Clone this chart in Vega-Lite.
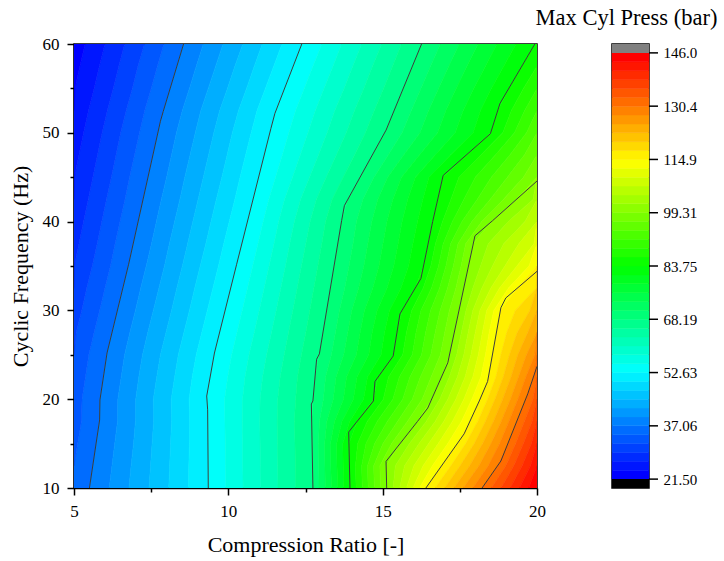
{
"$schema":"https://vega.github.io/schema/vega-lite/v6.json",
"background":"white",
"padding":{"left":8,"top":6,"right":5,"bottom":5},
"bounds":"flush",
"spacing":75,
"config":{"font":"Liberation Serif","view":{"stroke":"#000","strokeWidth":1.5},"axis":{"grid":false,"domainColor":"#000","tickColor":"#000","labelColor":"#000","titleColor":"#000","labelFont":"Liberation Serif","titleFont":"Liberation Serif","titleFontWeight":"normal","domainWidth":1.5,"tickWidth":1.5}},
"datasets":{
"cticks":[{"v":21.5},{"v":37.0625},{"v":52.625},{"v":68.1875},{"v":83.75},{"v":99.3125},{"v":114.875},{"v":130.4375},{"v":146}],
"cbar":[{"k":0,"lo":21.5,"hi":24.094},{"k":1,"lo":24.094,"hi":26.688},{"k":2,"lo":26.688,"hi":29.281},{"k":3,"lo":29.281,"hi":31.875},{"k":4,"lo":31.875,"hi":34.469},{"k":5,"lo":34.469,"hi":37.063},{"k":6,"lo":37.063,"hi":39.656},{"k":7,"lo":39.656,"hi":42.25},{"k":8,"lo":42.25,"hi":44.844},{"k":9,"lo":44.844,"hi":47.438},{"k":10,"lo":47.438,"hi":50.031},{"k":11,"lo":50.031,"hi":52.625},{"k":12,"lo":52.625,"hi":55.219},{"k":13,"lo":55.219,"hi":57.813},{"k":14,"lo":57.813,"hi":60.406},{"k":15,"lo":60.406,"hi":63},{"k":16,"lo":63,"hi":65.594},{"k":17,"lo":65.594,"hi":68.188},{"k":18,"lo":68.188,"hi":70.781},{"k":19,"lo":70.781,"hi":73.375},{"k":20,"lo":73.375,"hi":75.969},{"k":21,"lo":75.969,"hi":78.563},{"k":22,"lo":78.563,"hi":81.156},{"k":23,"lo":81.156,"hi":83.75},{"k":24,"lo":83.75,"hi":86.344},{"k":25,"lo":86.344,"hi":88.938},{"k":26,"lo":88.938,"hi":91.531},{"k":27,"lo":91.531,"hi":94.125},{"k":28,"lo":94.125,"hi":96.719},{"k":29,"lo":96.719,"hi":99.313},{"k":30,"lo":99.313,"hi":101.906},{"k":31,"lo":101.906,"hi":104.5},{"k":32,"lo":104.5,"hi":107.094},{"k":33,"lo":107.094,"hi":109.688},{"k":34,"lo":109.688,"hi":112.281},{"k":35,"lo":112.281,"hi":114.875},{"k":36,"lo":114.875,"hi":117.469},{"k":37,"lo":117.469,"hi":120.063},{"k":38,"lo":120.063,"hi":122.656},{"k":39,"lo":122.656,"hi":125.25},{"k":40,"lo":125.25,"hi":127.844},{"k":41,"lo":127.844,"hi":130.438},{"k":42,"lo":130.438,"hi":133.031},{"k":43,"lo":133.031,"hi":135.625},{"k":44,"lo":135.625,"hi":138.219},{"k":45,"lo":138.219,"hi":140.813},{"k":46,"lo":140.813,"hi":143.406},{"k":47,"lo":143.406,"hi":146}],
"caps":[{"part":"over","lo":146,"hi":148.594},{"part":"under","lo":18.906,"hi":21.5}],
"lines":[
{"level":"L1","x":5.5,"y":10},{"level":"L1","x":5.83,"y":17.66},{"level":"L1","x":5.84,"y":19.91},{"level":"L1","x":6.07,"y":25.2},{"level":"L1","x":6.77,"y":35.2},{"level":"L1","x":7.8,"y":51.3},{"level":"L1","x":7.89,"y":52.4},{"level":"L1","x":8.55,"y":60},
{"level":"L2","x":9.35,"y":10},{"level":"L2","x":9.33,"y":18.8},{"level":"L2","x":9.3,"y":20.36},{"level":"L2","x":9.55,"y":25.2},{"level":"L2","x":10.27,"y":35.2},{"level":"L2","x":11.38,"y":50.5},{"level":"L2","x":11.51,"y":52.2},{"level":"L2","x":12.38,"y":60},
{"level":"L3","x":12.74,"y":10},{"level":"L3","x":12.69,"y":19.46},{"level":"L3","x":12.74,"y":19.8},{"level":"L3","x":12.86,"y":24.5},{"level":"L3","x":12.95,"y":25.1},{"level":"L3","x":13.67,"y":40.1},{"level":"L3","x":13.76,"y":41.8},{"level":"L3","x":15.11,"y":50.3},{"level":"L3","x":16.26,"y":60},
{"level":"L4","x":13.94,"y":10},{"level":"L4","x":13.9,"y":16.31},{"level":"L4","x":14.7,"y":19.8},{"level":"L4","x":14.75,"y":22},{"level":"L4","x":15.34,"y":24.86},{"level":"L4","x":15.56,"y":29.6},{"level":"L4","x":16.24,"y":33.6},{"level":"L4","x":16.62,"y":40},{"level":"L4","x":16.96,"y":45.2},{"level":"L4","x":18.49,"y":49.9},{"level":"L4","x":18.8,"y":53.3},{"level":"L4","x":19.93,"y":60},
{"level":"L5","x":15.13,"y":10},{"level":"L5","x":15.11,"y":13},{"level":"L5","x":16.13,"y":17.5},{"level":"L5","x":16.46,"y":19},{"level":"L5","x":17.11,"y":24.1},{"level":"L5","x":17.99,"y":38.4},{"level":"L5","x":18.56,"y":40.1},{"level":"L5","x":20,"y":44.57},
{"level":"L6","x":16.4,"y":10},{"level":"L6","x":17.64,"y":16.1},{"level":"L6","x":18.13,"y":19.8},{"level":"L6","x":18.4,"y":22},{"level":"L6","x":18.83,"y":30.3},{"level":"L6","x":18.99,"y":31.4},{"level":"L6","x":20,"y":34.4},
{"level":"L7","x":18.22,"y":10},{"level":"L7","x":18.83,"y":13.04},{"level":"L7","x":19.7,"y":20.6},{"level":"L7","x":20,"y":23.7}],
"bands":[
{"k":5,"y":10,"a":5,"b":5.5},{"k":6,"y":10,"a":5.5,"b":6.14},{"k":7,"y":10,"a":6.14,"b":6.78},{"k":8,"y":10,"a":6.78,"b":7.43},{"k":9,"y":10,"a":7.43,"b":8.07},{"k":10,"y":10,"a":8.07,"b":8.71},{"k":11,"y":10,"a":8.71,"b":9.35},{"k":12,"y":10,"a":9.35,"b":9.92},{"k":13,"y":10,"a":9.92,"b":10.48},{"k":14,"y":10,"a":10.48,"b":11.05},{"k":15,"y":10,"a":11.05,"b":11.61},{"k":16,"y":10,"a":11.61,"b":12.18},{"k":17,"y":10,"a":12.18,"b":12.74},{"k":18,"y":10,"a":12.74,"b":12.94},{"k":19,"y":10,"a":12.94,"b":13.14},{"k":20,"y":10,"a":13.14,"b":13.34},{"k":21,"y":10,"a":13.34,"b":13.54},{"k":22,"y":10,"a":13.54,"b":13.74},{"k":23,"y":10,"a":13.74,"b":13.94},{"k":24,"y":10,"a":13.94,"b":14.14},{"k":25,"y":10,"a":14.14,"b":14.34},{"k":26,"y":10,"a":14.34,"b":14.53},{"k":27,"y":10,"a":14.53,"b":14.73},{"k":28,"y":10,"a":14.73,"b":14.93},{"k":29,"y":10,"a":14.93,"b":15.13},{"k":30,"y":10,"a":15.13,"b":15.34},{"k":31,"y":10,"a":15.34,"b":15.55},{"k":32,"y":10,"a":15.55,"b":15.77},{"k":33,"y":10,"a":15.77,"b":15.98},{"k":34,"y":10,"a":15.98,"b":16.19},{"k":35,"y":10,"a":16.19,"b":16.4},{"k":36,"y":10,"a":16.4,"b":16.7},{"k":37,"y":10,"a":16.7,"b":17.01},{"k":38,"y":10,"a":17.01,"b":17.31},{"k":39,"y":10,"a":17.31,"b":17.61},{"k":40,"y":10,"a":17.61,"b":17.92},{"k":41,"y":10,"a":17.92,"b":18.22},{"k":42,"y":10,"a":18.22,"b":18.52},{"k":43,"y":10,"a":18.52,"b":18.83},{"k":44,"y":10,"a":18.83,"b":19.13},{"k":45,"y":10,"a":19.13,"b":19.43},{"k":46,"y":10,"a":19.43,"b":19.73},{"k":47,"y":10,"a":19.73,"b":20},
{"k":4,"y":12.5,"a":5,"b":5},{"k":5,"y":12.5,"a":5,"b":5.61},{"k":6,"y":12.5,"a":5.61,"b":6.23},{"k":7,"y":12.5,"a":6.23,"b":6.85},{"k":8,"y":12.5,"a":6.85,"b":7.48},{"k":9,"y":12.5,"a":7.48,"b":8.1},{"k":10,"y":12.5,"a":8.1,"b":8.72},{"k":11,"y":12.5,"a":8.72,"b":9.34},{"k":12,"y":12.5,"a":9.34,"b":9.91},{"k":13,"y":12.5,"a":9.91,"b":10.47},{"k":14,"y":12.5,"a":10.47,"b":11.04},{"k":15,"y":12.5,"a":11.04,"b":11.6},{"k":16,"y":12.5,"a":11.6,"b":12.17},{"k":17,"y":12.5,"a":12.17,"b":12.73},{"k":18,"y":12.5,"a":12.73,"b":12.93},{"k":19,"y":12.5,"a":12.93,"b":13.13},{"k":20,"y":12.5,"a":13.13,"b":13.32},{"k":21,"y":12.5,"a":13.32,"b":13.52},{"k":22,"y":12.5,"a":13.52,"b":13.72},{"k":23,"y":12.5,"a":13.72,"b":13.92},{"k":24,"y":12.5,"a":13.92,"b":14.12},{"k":25,"y":12.5,"a":14.12,"b":14.32},{"k":26,"y":12.5,"a":14.32,"b":14.51},{"k":27,"y":12.5,"a":14.51,"b":14.71},{"k":28,"y":12.5,"a":14.71,"b":14.91},{"k":29,"y":12.5,"a":14.91,"b":15.11},{"k":30,"y":12.5,"a":15.11,"b":15.41},{"k":31,"y":12.5,"a":15.41,"b":15.71},{"k":32,"y":12.5,"a":15.71,"b":16.01},{"k":33,"y":12.5,"a":16.01,"b":16.31},{"k":34,"y":12.5,"a":16.31,"b":16.61},{"k":35,"y":12.5,"a":16.61,"b":16.91},{"k":36,"y":12.5,"a":16.91,"b":17.21},{"k":37,"y":12.5,"a":17.21,"b":17.51},{"k":38,"y":12.5,"a":17.51,"b":17.82},{"k":39,"y":12.5,"a":17.82,"b":18.12},{"k":40,"y":12.5,"a":18.12,"b":18.42},{"k":41,"y":12.5,"a":18.42,"b":18.72},{"k":42,"y":12.5,"a":18.72,"b":18.99},{"k":43,"y":12.5,"a":18.99,"b":19.25},{"k":44,"y":12.5,"a":19.25,"b":19.52},{"k":45,"y":12.5,"a":19.52,"b":19.79},{"k":46,"y":12.5,"a":19.79,"b":20},{"k":47,"y":12.5,"a":20,"b":20},
{"k":4,"y":15,"a":5,"b":5.12},{"k":5,"y":15,"a":5.12,"b":5.72},{"k":6,"y":15,"a":5.72,"b":6.32},{"k":7,"y":15,"a":6.32,"b":6.93},{"k":8,"y":15,"a":6.93,"b":7.53},{"k":9,"y":15,"a":7.53,"b":8.13},{"k":10,"y":15,"a":8.13,"b":8.74},{"k":11,"y":15,"a":8.74,"b":9.34},{"k":12,"y":15,"a":9.34,"b":9.9},{"k":13,"y":15,"a":9.9,"b":10.47},{"k":14,"y":15,"a":10.47,"b":11.03},{"k":15,"y":15,"a":11.03,"b":11.59},{"k":16,"y":15,"a":11.59,"b":12.16},{"k":17,"y":15,"a":12.16,"b":12.72},{"k":18,"y":15,"a":12.72,"b":12.92},{"k":19,"y":15,"a":12.92,"b":13.12},{"k":20,"y":15,"a":13.12,"b":13.31},{"k":21,"y":15,"a":13.31,"b":13.51},{"k":22,"y":15,"a":13.51,"b":13.71},{"k":23,"y":15,"a":13.71,"b":13.91},{"k":24,"y":15,"a":13.91,"b":14.19},{"k":25,"y":15,"a":14.19,"b":14.46},{"k":26,"y":15,"a":14.46,"b":14.74},{"k":27,"y":15,"a":14.74,"b":15.01},{"k":28,"y":15,"a":15.01,"b":15.29},{"k":29,"y":15,"a":15.29,"b":15.56},{"k":30,"y":15,"a":15.56,"b":15.87},{"k":31,"y":15,"a":15.87,"b":16.18},{"k":32,"y":15,"a":16.18,"b":16.49},{"k":33,"y":15,"a":16.49,"b":16.8},{"k":34,"y":15,"a":16.8,"b":17.11},{"k":35,"y":15,"a":17.11,"b":17.42},{"k":36,"y":15,"a":17.42,"b":17.69},{"k":37,"y":15,"a":17.69,"b":17.97},{"k":38,"y":15,"a":17.97,"b":18.24},{"k":39,"y":15,"a":18.24,"b":18.51},{"k":40,"y":15,"a":18.51,"b":18.79},{"k":41,"y":15,"a":18.79,"b":19.06},{"k":42,"y":15,"a":19.06,"b":19.31},{"k":43,"y":15,"a":19.31,"b":19.56},{"k":44,"y":15,"a":19.56,"b":19.82},{"k":45,"y":15,"a":19.82,"b":20},{"k":46,"y":15,"a":20,"b":20},
{"k":4,"y":17.5,"a":5,"b":5.24},{"k":5,"y":17.5,"a":5.24,"b":5.82},{"k":6,"y":17.5,"a":5.82,"b":6.41},{"k":7,"y":17.5,"a":6.41,"b":6.99},{"k":8,"y":17.5,"a":6.99,"b":7.58},{"k":9,"y":17.5,"a":7.58,"b":8.16},{"k":10,"y":17.5,"a":8.16,"b":8.75},{"k":11,"y":17.5,"a":8.75,"b":9.33},{"k":12,"y":17.5,"a":9.33,"b":9.89},{"k":13,"y":17.5,"a":9.89,"b":10.45},{"k":14,"y":17.5,"a":10.45,"b":11.02},{"k":15,"y":17.5,"a":11.02,"b":11.58},{"k":16,"y":17.5,"a":11.58,"b":12.14},{"k":17,"y":17.5,"a":12.14,"b":12.7},{"k":18,"y":17.5,"a":12.7,"b":12.95},{"k":19,"y":17.5,"a":12.95,"b":13.19},{"k":20,"y":17.5,"a":13.19,"b":13.44},{"k":21,"y":17.5,"a":13.44,"b":13.68},{"k":22,"y":17.5,"a":13.68,"b":13.93},{"k":23,"y":17.5,"a":13.93,"b":14.17},{"k":24,"y":17.5,"a":14.17,"b":14.5},{"k":25,"y":17.5,"a":14.5,"b":14.82},{"k":26,"y":17.5,"a":14.82,"b":15.15},{"k":27,"y":17.5,"a":15.15,"b":15.48},{"k":28,"y":17.5,"a":15.48,"b":15.8},{"k":29,"y":17.5,"a":15.8,"b":16.13},{"k":30,"y":17.5,"a":16.13,"b":16.41},{"k":31,"y":17.5,"a":16.41,"b":16.7},{"k":32,"y":17.5,"a":16.7,"b":16.98},{"k":33,"y":17.5,"a":16.98,"b":17.26},{"k":34,"y":17.5,"a":17.26,"b":17.55},{"k":35,"y":17.5,"a":17.55,"b":17.83},{"k":36,"y":17.5,"a":17.83,"b":18.08},{"k":37,"y":17.5,"a":18.08,"b":18.33},{"k":38,"y":17.5,"a":18.33,"b":18.59},{"k":39,"y":17.5,"a":18.59,"b":18.84},{"k":40,"y":17.5,"a":18.84,"b":19.09},{"k":41,"y":17.5,"a":19.09,"b":19.34},{"k":42,"y":17.5,"a":19.34,"b":19.59},{"k":43,"y":17.5,"a":19.59,"b":19.84},{"k":44,"y":17.5,"a":19.84,"b":20},{"k":45,"y":17.5,"a":20,"b":20},
{"k":4,"y":20,"a":5,"b":5.26},{"k":5,"y":20,"a":5.26,"b":5.84},{"k":6,"y":20,"a":5.84,"b":6.42},{"k":7,"y":20,"a":6.42,"b":7},{"k":8,"y":20,"a":7,"b":7.57},{"k":9,"y":20,"a":7.57,"b":8.15},{"k":10,"y":20,"a":8.15,"b":8.73},{"k":11,"y":20,"a":8.73,"b":9.31},{"k":12,"y":20,"a":9.31,"b":9.88},{"k":13,"y":20,"a":9.88,"b":10.46},{"k":14,"y":20,"a":10.46,"b":11.03},{"k":15,"y":20,"a":11.03,"b":11.6},{"k":16,"y":20,"a":11.6,"b":12.18},{"k":17,"y":20,"a":12.18,"b":12.75},{"k":18,"y":20,"a":12.75,"b":13.08},{"k":19,"y":20,"a":13.08,"b":13.4},{"k":20,"y":20,"a":13.4,"b":13.73},{"k":21,"y":20,"a":13.73,"b":14.05},{"k":22,"y":20,"a":14.05,"b":14.38},{"k":23,"y":20,"a":14.38,"b":14.7},{"k":24,"y":20,"a":14.7,"b":15.02},{"k":25,"y":20,"a":15.02,"b":15.33},{"k":26,"y":20,"a":15.33,"b":15.65},{"k":27,"y":20,"a":15.65,"b":15.96},{"k":28,"y":20,"a":15.96,"b":16.28},{"k":29,"y":20,"a":16.28,"b":16.59},{"k":30,"y":20,"a":16.59,"b":16.85},{"k":31,"y":20,"a":16.85,"b":17.11},{"k":32,"y":20,"a":17.11,"b":17.37},{"k":33,"y":20,"a":17.37,"b":17.63},{"k":34,"y":20,"a":17.63,"b":17.89},{"k":35,"y":20,"a":17.89,"b":18.15},{"k":36,"y":20,"a":18.15,"b":18.4},{"k":37,"y":20,"a":18.4,"b":18.64},{"k":38,"y":20,"a":18.64,"b":18.89},{"k":39,"y":20,"a":18.89,"b":19.14},{"k":40,"y":20,"a":19.14,"b":19.38},{"k":41,"y":20,"a":19.38,"b":19.63},{"k":42,"y":20,"a":19.63,"b":19.87},{"k":43,"y":20,"a":19.87,"b":20},{"k":44,"y":20,"a":20,"b":20},
{"k":4,"y":22.5,"a":5,"b":5.37},{"k":5,"y":22.5,"a":5.37,"b":5.95},{"k":6,"y":22.5,"a":5.95,"b":6.53},{"k":7,"y":22.5,"a":6.53,"b":7.1},{"k":8,"y":22.5,"a":7.1,"b":7.68},{"k":9,"y":22.5,"a":7.68,"b":8.26},{"k":10,"y":22.5,"a":8.26,"b":8.83},{"k":11,"y":22.5,"a":8.83,"b":9.41},{"k":12,"y":22.5,"a":9.41,"b":9.98},{"k":13,"y":22.5,"a":9.98,"b":10.54},{"k":14,"y":22.5,"a":10.54,"b":11.11},{"k":15,"y":22.5,"a":11.11,"b":11.68},{"k":16,"y":22.5,"a":11.68,"b":12.24},{"k":17,"y":22.5,"a":12.24,"b":12.81},{"k":18,"y":22.5,"a":12.81,"b":13.15},{"k":19,"y":22.5,"a":13.15,"b":13.49},{"k":20,"y":22.5,"a":13.49,"b":13.83},{"k":21,"y":22.5,"a":13.83,"b":14.17},{"k":22,"y":22.5,"a":14.17,"b":14.51},{"k":23,"y":22.5,"a":14.51,"b":14.85},{"k":24,"y":22.5,"a":14.85,"b":15.19},{"k":25,"y":22.5,"a":15.19,"b":15.54},{"k":26,"y":22.5,"a":15.54,"b":15.88},{"k":27,"y":22.5,"a":15.88,"b":16.22},{"k":28,"y":22.5,"a":16.22,"b":16.57},{"k":29,"y":22.5,"a":16.57,"b":16.91},{"k":30,"y":22.5,"a":16.91,"b":17.16},{"k":31,"y":22.5,"a":17.16,"b":17.42},{"k":32,"y":22.5,"a":17.42,"b":17.67},{"k":33,"y":22.5,"a":17.67,"b":17.92},{"k":34,"y":22.5,"a":17.92,"b":18.18},{"k":35,"y":22.5,"a":18.18,"b":18.43},{"k":36,"y":22.5,"a":18.43,"b":18.67},{"k":37,"y":22.5,"a":18.67,"b":18.91},{"k":38,"y":22.5,"a":18.91,"b":19.16},{"k":39,"y":22.5,"a":19.16,"b":19.4},{"k":40,"y":22.5,"a":19.4,"b":19.64},{"k":41,"y":22.5,"a":19.64,"b":19.88},{"k":42,"y":22.5,"a":19.88,"b":20},{"k":43,"y":22.5,"a":20,"b":20},
{"k":3,"y":25,"a":5,"b":5},{"k":4,"y":25,"a":5,"b":5.48},{"k":5,"y":25,"a":5.48,"b":6.06},{"k":6,"y":25,"a":6.06,"b":6.64},{"k":7,"y":25,"a":6.64,"b":7.22},{"k":8,"y":25,"a":7.22,"b":7.8},{"k":9,"y":25,"a":7.8,"b":8.38},{"k":10,"y":25,"a":8.38,"b":8.96},{"k":11,"y":25,"a":8.96,"b":9.54},{"k":12,"y":25,"a":9.54,"b":10.11},{"k":13,"y":25,"a":10.11,"b":10.67},{"k":14,"y":25,"a":10.67,"b":11.24},{"k":15,"y":25,"a":11.24,"b":11.81},{"k":16,"y":25,"a":11.81,"b":12.37},{"k":17,"y":25,"a":12.37,"b":12.94},{"k":18,"y":25,"a":12.94,"b":13.34},{"k":19,"y":25,"a":13.34,"b":13.74},{"k":20,"y":25,"a":13.74,"b":14.15},{"k":21,"y":25,"a":14.15,"b":14.55},{"k":22,"y":25,"a":14.55,"b":14.95},{"k":23,"y":25,"a":14.95,"b":15.35},{"k":24,"y":25,"a":15.35,"b":15.65},{"k":25,"y":25,"a":15.65,"b":15.96},{"k":26,"y":25,"a":15.96,"b":16.26},{"k":27,"y":25,"a":16.26,"b":16.56},{"k":28,"y":25,"a":16.56,"b":16.87},{"k":29,"y":25,"a":16.87,"b":17.17},{"k":30,"y":25,"a":17.17,"b":17.4},{"k":31,"y":25,"a":17.4,"b":17.63},{"k":32,"y":25,"a":17.63,"b":17.86},{"k":33,"y":25,"a":17.86,"b":18.1},{"k":34,"y":25,"a":18.1,"b":18.33},{"k":35,"y":25,"a":18.33,"b":18.56},{"k":36,"y":25,"a":18.56,"b":18.83},{"k":37,"y":25,"a":18.83,"b":19.11},{"k":38,"y":25,"a":19.11,"b":19.38},{"k":39,"y":25,"a":19.38,"b":19.66},{"k":40,"y":25,"a":19.66,"b":19.93},{"k":41,"y":25,"a":19.93,"b":20},{"k":42,"y":25,"a":20,"b":20},
{"k":3,"y":27.5,"a":5,"b":5.07},{"k":4,"y":27.5,"a":5.07,"b":5.65},{"k":5,"y":27.5,"a":5.65,"b":6.23},{"k":6,"y":27.5,"a":6.23,"b":6.81},{"k":7,"y":27.5,"a":6.81,"b":7.39},{"k":8,"y":27.5,"a":7.39,"b":7.98},{"k":9,"y":27.5,"a":7.98,"b":8.56},{"k":10,"y":27.5,"a":8.56,"b":9.14},{"k":11,"y":27.5,"a":9.14,"b":9.72},{"k":12,"y":27.5,"a":9.72,"b":10.28},{"k":13,"y":27.5,"a":10.28,"b":10.84},{"k":14,"y":27.5,"a":10.84,"b":11.4},{"k":15,"y":27.5,"a":11.4,"b":11.95},{"k":16,"y":27.5,"a":11.95,"b":12.51},{"k":17,"y":27.5,"a":12.51,"b":13.07},{"k":18,"y":27.5,"a":13.07,"b":13.47},{"k":19,"y":27.5,"a":13.47,"b":13.87},{"k":20,"y":27.5,"a":13.87,"b":14.27},{"k":21,"y":27.5,"a":14.27,"b":14.66},{"k":22,"y":27.5,"a":14.66,"b":15.06},{"k":23,"y":27.5,"a":15.06,"b":15.46},{"k":24,"y":27.5,"a":15.46,"b":15.77},{"k":25,"y":27.5,"a":15.77,"b":16.08},{"k":26,"y":27.5,"a":16.08,"b":16.39},{"k":27,"y":27.5,"a":16.39,"b":16.7},{"k":28,"y":27.5,"a":16.7,"b":17.01},{"k":29,"y":27.5,"a":17.01,"b":17.32},{"k":30,"y":27.5,"a":17.32,"b":17.55},{"k":31,"y":27.5,"a":17.55,"b":17.77},{"k":32,"y":27.5,"a":17.77,"b":18},{"k":33,"y":27.5,"a":18,"b":18.23},{"k":34,"y":27.5,"a":18.23,"b":18.45},{"k":35,"y":27.5,"a":18.45,"b":18.68},{"k":36,"y":27.5,"a":18.68,"b":19.02},{"k":37,"y":27.5,"a":19.02,"b":19.36},{"k":38,"y":27.5,"a":19.36,"b":19.7},{"k":39,"y":27.5,"a":19.7,"b":20},{"k":40,"y":27.5,"a":20,"b":20},{"k":41,"y":27.5,"a":20,"b":20},
{"k":3,"y":30,"a":5,"b":5.25},{"k":4,"y":30,"a":5.25,"b":5.83},{"k":5,"y":30,"a":5.83,"b":6.41},{"k":6,"y":30,"a":6.41,"b":6.99},{"k":7,"y":30,"a":6.99,"b":7.57},{"k":8,"y":30,"a":7.57,"b":8.16},{"k":9,"y":30,"a":8.16,"b":8.74},{"k":10,"y":30,"a":8.74,"b":9.32},{"k":11,"y":30,"a":9.32,"b":9.9},{"k":12,"y":30,"a":9.9,"b":10.45},{"k":13,"y":30,"a":10.45,"b":11},{"k":14,"y":30,"a":11,"b":11.55},{"k":15,"y":30,"a":11.55,"b":12.09},{"k":16,"y":30,"a":12.09,"b":12.64},{"k":17,"y":30,"a":12.64,"b":13.19},{"k":18,"y":30,"a":13.19,"b":13.6},{"k":19,"y":30,"a":13.6,"b":14},{"k":20,"y":30,"a":14,"b":14.41},{"k":21,"y":30,"a":14.41,"b":14.82},{"k":22,"y":30,"a":14.82,"b":15.22},{"k":23,"y":30,"a":15.22,"b":15.63},{"k":24,"y":30,"a":15.63,"b":15.94},{"k":25,"y":30,"a":15.94,"b":16.24},{"k":26,"y":30,"a":16.24,"b":16.55},{"k":27,"y":30,"a":16.55,"b":16.86},{"k":28,"y":30,"a":16.86,"b":17.16},{"k":29,"y":30,"a":17.16,"b":17.47},{"k":30,"y":30,"a":17.47,"b":17.7},{"k":31,"y":30,"a":17.7,"b":17.92},{"k":32,"y":30,"a":17.92,"b":18.15},{"k":33,"y":30,"a":18.15,"b":18.37},{"k":34,"y":30,"a":18.37,"b":18.6},{"k":35,"y":30,"a":18.6,"b":18.82},{"k":36,"y":30,"a":18.82,"b":19.3},{"k":37,"y":30,"a":19.3,"b":19.77},{"k":38,"y":30,"a":19.77,"b":20},{"k":39,"y":30,"a":20,"b":20},
{"k":2,"y":32.5,"a":5,"b":5},{"k":3,"y":32.5,"a":5,"b":5.41},{"k":4,"y":32.5,"a":5.41,"b":6},{"k":5,"y":32.5,"a":6,"b":6.58},{"k":6,"y":32.5,"a":6.58,"b":7.16},{"k":7,"y":32.5,"a":7.16,"b":7.75},{"k":8,"y":32.5,"a":7.75,"b":8.33},{"k":9,"y":32.5,"a":8.33,"b":8.91},{"k":10,"y":32.5,"a":8.91,"b":9.5},{"k":11,"y":32.5,"a":9.5,"b":10.08},{"k":12,"y":32.5,"a":10.08,"b":10.62},{"k":13,"y":32.5,"a":10.62,"b":11.16},{"k":14,"y":32.5,"a":11.16,"b":11.7},{"k":15,"y":32.5,"a":11.7,"b":12.23},{"k":16,"y":32.5,"a":12.23,"b":12.77},{"k":17,"y":32.5,"a":12.77,"b":13.31},{"k":18,"y":32.5,"a":13.31,"b":13.77},{"k":19,"y":32.5,"a":13.77,"b":14.22},{"k":20,"y":32.5,"a":14.22,"b":14.68},{"k":21,"y":32.5,"a":14.68,"b":15.14},{"k":22,"y":32.5,"a":15.14,"b":15.59},{"k":23,"y":32.5,"a":15.59,"b":16.05},{"k":24,"y":32.5,"a":16.05,"b":16.31},{"k":25,"y":32.5,"a":16.31,"b":16.58},{"k":26,"y":32.5,"a":16.58,"b":16.84},{"k":27,"y":32.5,"a":16.84,"b":17.1},{"k":28,"y":32.5,"a":17.1,"b":17.37},{"k":29,"y":32.5,"a":17.37,"b":17.63},{"k":30,"y":32.5,"a":17.63,"b":17.92},{"k":31,"y":32.5,"a":17.92,"b":18.21},{"k":32,"y":32.5,"a":18.21,"b":18.5},{"k":33,"y":32.5,"a":18.5,"b":18.78},{"k":34,"y":32.5,"a":18.78,"b":19.07},{"k":35,"y":32.5,"a":19.07,"b":19.36},{"k":36,"y":32.5,"a":19.36,"b":19.97},{"k":37,"y":32.5,"a":19.97,"b":20},{"k":38,"y":32.5,"a":20,"b":20},
{"k":2,"y":35,"a":5,"b":5.01},{"k":3,"y":35,"a":5.01,"b":5.59},{"k":4,"y":35,"a":5.59,"b":6.18},{"k":5,"y":35,"a":6.18,"b":6.76},{"k":6,"y":35,"a":6.76,"b":7.34},{"k":7,"y":35,"a":7.34,"b":7.93},{"k":8,"y":35,"a":7.93,"b":8.51},{"k":9,"y":35,"a":8.51,"b":9.09},{"k":10,"y":35,"a":9.09,"b":9.68},{"k":11,"y":35,"a":9.68,"b":10.26},{"k":12,"y":35,"a":10.26,"b":10.79},{"k":13,"y":35,"a":10.79,"b":11.32},{"k":14,"y":35,"a":11.32,"b":11.85},{"k":15,"y":35,"a":11.85,"b":12.37},{"k":16,"y":35,"a":12.37,"b":12.9},{"k":17,"y":35,"a":12.9,"b":13.43},{"k":18,"y":35,"a":13.43,"b":13.91},{"k":19,"y":35,"a":13.91,"b":14.39},{"k":20,"y":35,"a":14.39,"b":14.88},{"k":21,"y":35,"a":14.88,"b":15.36},{"k":22,"y":35,"a":15.36,"b":15.84},{"k":23,"y":35,"a":15.84,"b":16.32},{"k":24,"y":35,"a":16.32,"b":16.56},{"k":25,"y":35,"a":16.56,"b":16.81},{"k":26,"y":35,"a":16.81,"b":17.05},{"k":27,"y":35,"a":17.05,"b":17.29},{"k":28,"y":35,"a":17.29,"b":17.54},{"k":29,"y":35,"a":17.54,"b":17.78},{"k":30,"y":35,"a":17.78,"b":18.17},{"k":31,"y":35,"a":18.17,"b":18.56},{"k":32,"y":35,"a":18.56,"b":18.96},{"k":33,"y":35,"a":18.96,"b":19.35},{"k":34,"y":35,"a":19.35,"b":19.74},{"k":35,"y":35,"a":19.74,"b":20},{"k":36,"y":35,"a":20,"b":20},{"k":37,"y":35,"a":20,"b":20},
{"k":2,"y":37.5,"a":5,"b":5.16},{"k":3,"y":37.5,"a":5.16,"b":5.75},{"k":4,"y":37.5,"a":5.75,"b":6.33},{"k":5,"y":37.5,"a":6.33,"b":6.92},{"k":6,"y":37.5,"a":6.92,"b":7.51},{"k":7,"y":37.5,"a":7.51,"b":8.09},{"k":8,"y":37.5,"a":8.09,"b":8.68},{"k":9,"y":37.5,"a":8.68,"b":9.27},{"k":10,"y":37.5,"a":9.27,"b":9.85},{"k":11,"y":37.5,"a":9.85,"b":10.44},{"k":12,"y":37.5,"a":10.44,"b":10.96},{"k":13,"y":37.5,"a":10.96,"b":11.48},{"k":14,"y":37.5,"a":11.48,"b":11.99},{"k":15,"y":37.5,"a":11.99,"b":12.51},{"k":16,"y":37.5,"a":12.51,"b":13.03},{"k":17,"y":37.5,"a":13.03,"b":13.55},{"k":18,"y":37.5,"a":13.55,"b":14.04},{"k":19,"y":37.5,"a":14.04,"b":14.52},{"k":20,"y":37.5,"a":14.52,"b":15.01},{"k":21,"y":37.5,"a":15.01,"b":15.5},{"k":22,"y":37.5,"a":15.5,"b":15.98},{"k":23,"y":37.5,"a":15.98,"b":16.47},{"k":24,"y":37.5,"a":16.47,"b":16.71},{"k":25,"y":37.5,"a":16.71,"b":16.96},{"k":26,"y":37.5,"a":16.96,"b":17.2},{"k":27,"y":37.5,"a":17.2,"b":17.44},{"k":28,"y":37.5,"a":17.44,"b":17.69},{"k":29,"y":37.5,"a":17.69,"b":17.93},{"k":30,"y":37.5,"a":17.93,"b":18.42},{"k":31,"y":37.5,"a":18.42,"b":18.92},{"k":32,"y":37.5,"a":18.92,"b":19.41},{"k":33,"y":37.5,"a":19.41,"b":19.9},{"k":34,"y":37.5,"a":19.9,"b":20},{"k":35,"y":37.5,"a":20,"b":20},
{"k":2,"y":40,"a":5,"b":5.31},{"k":3,"y":40,"a":5.31,"b":5.9},{"k":4,"y":40,"a":5.9,"b":6.49},{"k":5,"y":40,"a":6.49,"b":7.08},{"k":6,"y":40,"a":7.08,"b":7.67},{"k":7,"y":40,"a":7.67,"b":8.26},{"k":8,"y":40,"a":8.26,"b":8.85},{"k":9,"y":40,"a":8.85,"b":9.44},{"k":10,"y":40,"a":9.44,"b":10.03},{"k":11,"y":40,"a":10.03,"b":10.62},{"k":12,"y":40,"a":10.62,"b":11.13},{"k":13,"y":40,"a":11.13,"b":11.63},{"k":14,"y":40,"a":11.63,"b":12.14},{"k":15,"y":40,"a":12.14,"b":12.65},{"k":16,"y":40,"a":12.65,"b":13.15},{"k":17,"y":40,"a":13.15,"b":13.66},{"k":18,"y":40,"a":13.66,"b":14.15},{"k":19,"y":40,"a":14.15,"b":14.65},{"k":20,"y":40,"a":14.65,"b":15.14},{"k":21,"y":40,"a":15.14,"b":15.63},{"k":22,"y":40,"a":15.63,"b":16.13},{"k":23,"y":40,"a":16.13,"b":16.62},{"k":24,"y":40,"a":16.62,"b":16.94},{"k":25,"y":40,"a":16.94,"b":17.26},{"k":26,"y":40,"a":17.26,"b":17.57},{"k":27,"y":40,"a":17.57,"b":17.89},{"k":28,"y":40,"a":17.89,"b":18.21},{"k":29,"y":40,"a":18.21,"b":18.53},{"k":30,"y":40,"a":18.53,"b":19.07},{"k":31,"y":40,"a":19.07,"b":19.61},{"k":32,"y":40,"a":19.61,"b":20},{"k":33,"y":40,"a":20,"b":20},{"k":34,"y":40,"a":20,"b":20},
{"k":1,"y":42.5,"a":5,"b":5},{"k":2,"y":42.5,"a":5,"b":5.46},{"k":3,"y":42.5,"a":5.46,"b":6.05},{"k":4,"y":42.5,"a":6.05,"b":6.65},{"k":5,"y":42.5,"a":6.65,"b":7.24},{"k":6,"y":42.5,"a":7.24,"b":7.83},{"k":7,"y":42.5,"a":7.83,"b":8.43},{"k":8,"y":42.5,"a":8.43,"b":9.02},{"k":9,"y":42.5,"a":9.02,"b":9.61},{"k":10,"y":42.5,"a":9.61,"b":10.21},{"k":11,"y":42.5,"a":10.21,"b":10.8},{"k":12,"y":42.5,"a":10.8,"b":11.31},{"k":13,"y":42.5,"a":11.31,"b":11.82},{"k":14,"y":42.5,"a":11.82,"b":12.34},{"k":15,"y":42.5,"a":12.34,"b":12.85},{"k":16,"y":42.5,"a":12.85,"b":13.36},{"k":17,"y":42.5,"a":13.36,"b":13.87},{"k":18,"y":42.5,"a":13.87,"b":14.36},{"k":19,"y":42.5,"a":14.36,"b":14.84},{"k":20,"y":42.5,"a":14.84,"b":15.33},{"k":21,"y":42.5,"a":15.33,"b":15.81},{"k":22,"y":42.5,"a":15.81,"b":16.3},{"k":23,"y":42.5,"a":16.3,"b":16.78},{"k":24,"y":42.5,"a":16.78,"b":17.21},{"k":25,"y":42.5,"a":17.21,"b":17.63},{"k":26,"y":42.5,"a":17.63,"b":18.06},{"k":27,"y":42.5,"a":18.06,"b":18.48},{"k":28,"y":42.5,"a":18.48,"b":18.91},{"k":29,"y":42.5,"a":18.91,"b":19.33},{"k":30,"y":42.5,"a":19.33,"b":19.87},{"k":31,"y":42.5,"a":19.87,"b":20},{"k":32,"y":42.5,"a":20,"b":20},
{"k":1,"y":45,"a":5,"b":5.01},{"k":2,"y":45,"a":5.01,"b":5.61},{"k":3,"y":45,"a":5.61,"b":6.21},{"k":4,"y":45,"a":6.21,"b":6.8},{"k":5,"y":45,"a":6.8,"b":7.4},{"k":6,"y":45,"a":7.4,"b":8},{"k":7,"y":45,"a":8,"b":8.59},{"k":8,"y":45,"a":8.59,"b":9.19},{"k":9,"y":45,"a":9.19,"b":9.79},{"k":10,"y":45,"a":9.79,"b":10.38},{"k":11,"y":45,"a":10.38,"b":10.98},{"k":12,"y":45,"a":10.98,"b":11.53},{"k":13,"y":45,"a":11.53,"b":12.08},{"k":14,"y":45,"a":12.08,"b":12.63},{"k":15,"y":45,"a":12.63,"b":13.17},{"k":16,"y":45,"a":13.17,"b":13.72},{"k":17,"y":45,"a":13.72,"b":14.27},{"k":18,"y":45,"a":14.27,"b":14.72},{"k":19,"y":45,"a":14.72,"b":15.16},{"k":20,"y":45,"a":15.16,"b":15.61},{"k":21,"y":45,"a":15.61,"b":16.06},{"k":22,"y":45,"a":16.06,"b":16.5},{"k":23,"y":45,"a":16.5,"b":16.95},{"k":24,"y":45,"a":16.95,"b":17.47},{"k":25,"y":45,"a":17.47,"b":18},{"k":26,"y":45,"a":18,"b":18.52},{"k":27,"y":45,"a":18.52,"b":19.04},{"k":28,"y":45,"a":19.04,"b":19.56},{"k":29,"y":45,"a":19.56,"b":20},{"k":30,"y":45,"a":20,"b":20},{"k":31,"y":45,"a":20,"b":20},
{"k":1,"y":47.5,"a":5,"b":5.16},{"k":2,"y":47.5,"a":5.16,"b":5.76},{"k":3,"y":47.5,"a":5.76,"b":6.36},{"k":4,"y":47.5,"a":6.36,"b":6.96},{"k":5,"y":47.5,"a":6.96,"b":7.56},{"k":6,"y":47.5,"a":7.56,"b":8.16},{"k":7,"y":47.5,"a":8.16,"b":8.76},{"k":8,"y":47.5,"a":8.76,"b":9.36},{"k":9,"y":47.5,"a":9.36,"b":9.96},{"k":10,"y":47.5,"a":9.96,"b":10.56},{"k":11,"y":47.5,"a":10.56,"b":11.16},{"k":12,"y":47.5,"a":11.16,"b":11.75},{"k":13,"y":47.5,"a":11.75,"b":12.33},{"k":14,"y":47.5,"a":12.33,"b":12.92},{"k":15,"y":47.5,"a":12.92,"b":13.5},{"k":16,"y":47.5,"a":13.5,"b":14.09},{"k":17,"y":47.5,"a":14.09,"b":14.67},{"k":18,"y":47.5,"a":14.67,"b":15.18},{"k":19,"y":47.5,"a":15.18,"b":15.68},{"k":20,"y":47.5,"a":15.68,"b":16.19},{"k":21,"y":47.5,"a":16.19,"b":16.7},{"k":22,"y":47.5,"a":16.7,"b":17.2},{"k":23,"y":47.5,"a":17.2,"b":17.71},{"k":24,"y":47.5,"a":17.71,"b":18.18},{"k":25,"y":47.5,"a":18.18,"b":18.65},{"k":26,"y":47.5,"a":18.65,"b":19.12},{"k":27,"y":47.5,"a":19.12,"b":19.59},{"k":28,"y":47.5,"a":19.59,"b":20},{"k":29,"y":47.5,"a":20,"b":20},
{"k":1,"y":50,"a":5,"b":5.31},{"k":2,"y":50,"a":5.31,"b":5.91},{"k":3,"y":50,"a":5.91,"b":6.51},{"k":4,"y":50,"a":6.51,"b":7.12},{"k":5,"y":50,"a":7.12,"b":7.72},{"k":6,"y":50,"a":7.72,"b":8.32},{"k":7,"y":50,"a":8.32,"b":8.93},{"k":8,"y":50,"a":8.93,"b":9.53},{"k":9,"y":50,"a":9.53,"b":10.13},{"k":10,"y":50,"a":10.13,"b":10.74},{"k":11,"y":50,"a":10.74,"b":11.34},{"k":12,"y":50,"a":11.34,"b":11.96},{"k":13,"y":50,"a":11.96,"b":12.58},{"k":14,"y":50,"a":12.58,"b":13.2},{"k":15,"y":50,"a":13.2,"b":13.82},{"k":16,"y":50,"a":13.82,"b":14.44},{"k":17,"y":50,"a":14.44,"b":15.06},{"k":18,"y":50,"a":15.06,"b":15.63},{"k":19,"y":50,"a":15.63,"b":16.21},{"k":20,"y":50,"a":16.21,"b":16.78},{"k":21,"y":50,"a":16.78,"b":17.35},{"k":22,"y":50,"a":17.35,"b":17.93},{"k":23,"y":50,"a":17.93,"b":18.5},{"k":24,"y":50,"a":18.5,"b":18.89},{"k":25,"y":50,"a":18.89,"b":19.27},{"k":26,"y":50,"a":19.27,"b":19.66},{"k":27,"y":50,"a":19.66,"b":20},{"k":28,"y":50,"a":20,"b":20},
{"k":0,"y":52.5,"a":5,"b":5},{"k":1,"y":52.5,"a":5,"b":5.47},{"k":2,"y":52.5,"a":5.47,"b":6.08},{"k":3,"y":52.5,"a":6.08,"b":6.69},{"k":4,"y":52.5,"a":6.69,"b":7.29},{"k":5,"y":52.5,"a":7.29,"b":7.9},{"k":6,"y":52.5,"a":7.9,"b":8.51},{"k":7,"y":52.5,"a":8.51,"b":9.11},{"k":8,"y":52.5,"a":9.11,"b":9.72},{"k":9,"y":52.5,"a":9.72,"b":10.33},{"k":10,"y":52.5,"a":10.33,"b":10.93},{"k":11,"y":52.5,"a":10.93,"b":11.54},{"k":12,"y":52.5,"a":11.54,"b":12.18},{"k":13,"y":52.5,"a":12.18,"b":12.82},{"k":14,"y":52.5,"a":12.82,"b":13.45},{"k":15,"y":52.5,"a":13.45,"b":14.09},{"k":16,"y":52.5,"a":14.09,"b":14.73},{"k":17,"y":52.5,"a":14.73,"b":15.37},{"k":18,"y":52.5,"a":15.37,"b":15.93},{"k":19,"y":52.5,"a":15.93,"b":16.49},{"k":20,"y":52.5,"a":16.49,"b":17.05},{"k":21,"y":52.5,"a":17.05,"b":17.61},{"k":22,"y":52.5,"a":17.61,"b":18.17},{"k":23,"y":52.5,"a":18.17,"b":18.73},{"k":24,"y":52.5,"a":18.73,"b":19.17},{"k":25,"y":52.5,"a":19.17,"b":19.6},{"k":26,"y":52.5,"a":19.6,"b":20},{"k":27,"y":52.5,"a":20,"b":20},
{"k":0,"y":55,"a":5,"b":5.03},{"k":1,"y":55,"a":5.03,"b":5.65},{"k":2,"y":55,"a":5.65,"b":6.27},{"k":3,"y":55,"a":6.27,"b":6.89},{"k":4,"y":55,"a":6.89,"b":7.5},{"k":5,"y":55,"a":7.5,"b":8.12},{"k":6,"y":55,"a":8.12,"b":8.74},{"k":7,"y":55,"a":8.74,"b":9.35},{"k":8,"y":55,"a":9.35,"b":9.97},{"k":9,"y":55,"a":9.97,"b":10.59},{"k":10,"y":55,"a":10.59,"b":11.2},{"k":11,"y":55,"a":11.2,"b":11.82},{"k":12,"y":55,"a":11.82,"b":12.46},{"k":13,"y":55,"a":12.46,"b":13.1},{"k":14,"y":55,"a":13.1,"b":13.75},{"k":15,"y":55,"a":13.75,"b":14.39},{"k":16,"y":55,"a":14.39,"b":15.03},{"k":17,"y":55,"a":15.03,"b":15.67},{"k":18,"y":55,"a":15.67,"b":16.24},{"k":19,"y":55,"a":16.24,"b":16.81},{"k":20,"y":55,"a":16.81,"b":17.38},{"k":21,"y":55,"a":17.38,"b":17.95},{"k":22,"y":55,"a":17.95,"b":18.52},{"k":23,"y":55,"a":18.52,"b":19.09},{"k":24,"y":55,"a":19.09,"b":19.56},{"k":25,"y":55,"a":19.56,"b":20},{"k":26,"y":55,"a":20,"b":20},
{"k":0,"y":57.5,"a":5,"b":5.19},{"k":1,"y":57.5,"a":5.19,"b":5.82},{"k":2,"y":57.5,"a":5.82,"b":6.45},{"k":3,"y":57.5,"a":6.45,"b":7.07},{"k":4,"y":57.5,"a":7.07,"b":7.7},{"k":5,"y":57.5,"a":7.7,"b":8.33},{"k":6,"y":57.5,"a":8.33,"b":8.96},{"k":7,"y":57.5,"a":8.96,"b":9.59},{"k":8,"y":57.5,"a":9.59,"b":10.21},{"k":9,"y":57.5,"a":10.21,"b":10.84},{"k":10,"y":57.5,"a":10.84,"b":11.47},{"k":11,"y":57.5,"a":11.47,"b":12.1},{"k":12,"y":57.5,"a":12.1,"b":12.74},{"k":13,"y":57.5,"a":12.74,"b":13.39},{"k":14,"y":57.5,"a":13.39,"b":14.03},{"k":15,"y":57.5,"a":14.03,"b":14.67},{"k":16,"y":57.5,"a":14.67,"b":15.32},{"k":17,"y":57.5,"a":15.32,"b":15.96},{"k":18,"y":57.5,"a":15.96,"b":16.55},{"k":19,"y":57.5,"a":16.55,"b":17.14},{"k":20,"y":57.5,"a":17.14,"b":17.73},{"k":21,"y":57.5,"a":17.73,"b":18.33},{"k":22,"y":57.5,"a":18.33,"b":18.92},{"k":23,"y":57.5,"a":18.92,"b":19.51},{"k":24,"y":57.5,"a":19.51,"b":20},{"k":25,"y":57.5,"a":20,"b":20},
{"k":0,"y":60,"a":5,"b":5.36},{"k":1,"y":60,"a":5.36,"b":6},{"k":2,"y":60,"a":6,"b":6.64},{"k":3,"y":60,"a":6.64,"b":7.28},{"k":4,"y":60,"a":7.28,"b":7.91},{"k":5,"y":60,"a":7.91,"b":8.55},{"k":6,"y":60,"a":8.55,"b":9.19},{"k":7,"y":60,"a":9.19,"b":9.83},{"k":8,"y":60,"a":9.83,"b":10.47},{"k":9,"y":60,"a":10.47,"b":11.1},{"k":10,"y":60,"a":11.1,"b":11.74},{"k":11,"y":60,"a":11.74,"b":12.38},{"k":12,"y":60,"a":12.38,"b":13.03},{"k":13,"y":60,"a":13.03,"b":13.67},{"k":14,"y":60,"a":13.67,"b":14.32},{"k":15,"y":60,"a":14.32,"b":14.97},{"k":16,"y":60,"a":14.97,"b":15.61},{"k":17,"y":60,"a":15.61,"b":16.26},{"k":18,"y":60,"a":16.26,"b":16.87},{"k":19,"y":60,"a":16.87,"b":17.48},{"k":20,"y":60,"a":17.48,"b":18.09},{"k":21,"y":60,"a":18.09,"b":18.7},{"k":22,"y":60,"a":18.7,"b":19.32},{"k":23,"y":60,"a":19.32,"b":19.93},{"k":24,"y":60,"a":19.93,"b":20}
]},
"hconcat":[
{"width":463,"height":444,
 "layer":[
  {"data":{"name":"bands"},
   "mark":{"type":"area","orient":"horizontal","clip":true,"strokeWidth":0.6},
   "encoding":{
    "y":{"field":"y","type":"quantitative","scale":{"domain":[10,60],"nice":false,"zero":false},
      "axis":{"title":"Cyclic Frequency (Hz)","values":[10,15,20,25,30,35,40,45,50,55,60],"format":"d","labelExpr":"datum.value % 10 === 0 ? datum.label : ''","tickSize":{"condition":{"test":"datum.value % 10 === 0","value":7},"value":4},"labelFontSize":17,"labelPadding":8,"titleFontSize":22,"titlePadding":10,"labelOverlap":false}},
    "x":{"field":"a","type":"quantitative","stack":null,"scale":{"domain":[5,20],"nice":false,"zero":false},
      "axis":{"title":"Compression Ratio [-]","values":[5,7.5,10,12.5,15,17.5,20],"format":"d","labelExpr":"datum.value % 5 === 0 ? datum.label : ''","tickSize":{"condition":{"test":"datum.value % 5 === 0","value":7},"value":4},"labelFontSize":17,"labelPadding":8,"titleFontSize":22,"titlePadding":15,"labelFlush":false,"labelOverlap":false}},
    "x2":{"field":"b"},
    "color":{"field":"k","type":"ordinal","scale":{"domain":[0,1,2,3,4,5,6,7,8,9,10,11,12,13,14,15,16,17,18,19,20,21,22,23,24,25,26,27,28,29,30,31,32,33,34,35,36,37,38,39,40,41,42,43,44,45,46,47],"range":["#0000ff","#0016ff","#002bff","#0041ff","#0057ff","#006cff","#0082ff","#0098ff","#00aeff","#00c3ff","#00d9ff","#00efff","#00fffa","#00ffe4","#00ffce","#00ffb8","#00ffa3","#00ff8d","#00ff77","#00ff62","#00ff4c","#00ff36","#00ff21","#00ff0b","#0bff00","#21ff00","#36ff00","#4cff00","#62ff00","#77ff00","#8dff00","#a3ff00","#b8ff00","#ceff00","#e4ff00","#faff00","#ffef00","#ffd900","#ffc300","#ffae00","#ff9800","#ff8200","#ff6c00","#ff5700","#ff4100","#ff2b00","#ff1600","#ff0000"]},"legend":null},
    "stroke":{"field":"k","type":"ordinal","scale":{"domain":[0,1,2,3,4,5,6,7,8,9,10,11,12,13,14,15,16,17,18,19,20,21,22,23,24,25,26,27,28,29,30,31,32,33,34,35,36,37,38,39,40,41,42,43,44,45,46,47],"range":["#0000ff","#0016ff","#002bff","#0041ff","#0057ff","#006cff","#0082ff","#0098ff","#00aeff","#00c3ff","#00d9ff","#00efff","#00fffa","#00ffe4","#00ffce","#00ffb8","#00ffa3","#00ff8d","#00ff77","#00ff62","#00ff4c","#00ff36","#00ff21","#00ff0b","#0bff00","#21ff00","#36ff00","#4cff00","#62ff00","#77ff00","#8dff00","#a3ff00","#b8ff00","#ceff00","#e4ff00","#faff00","#ffef00","#ffd900","#ffc300","#ffae00","#ff9800","#ff8200","#ff6c00","#ff5700","#ff4100","#ff2b00","#ff1600","#ff0000"]},"legend":null}
   }},
  {"data":{"name":"lines"},
   "mark":{"type":"line","color":"#3c3c3c","strokeWidth":1,"clip":true},
   "encoding":{"x":{"field":"x","type":"quantitative"},"y":{"field":"y","type":"quantitative"},"detail":{"field":"level","type":"nominal"},"order":{"field":"y","type":"quantitative"}}}
 ]},
{"width":37,"height":444,
 "title":{"text":"Max Cyl Press (bar)","fontSize":22.5,"font":"Liberation Serif","fontWeight":"normal","anchor":"middle","offset":14,"dx":-4,"color":"#000"},
 "layer":[
  {"data":{"name":"cbar"},
   "mark":{"type":"rect","strokeWidth":0.5},
   "encoding":{
    "x":{"datum":0,"type":"quantitative","scale":{"domain":[0,1],"nice":false,"zero":false},"axis":null},
    "x2":{"datum":1},
    "y":{"field":"lo","type":"quantitative","scale":{"domain":[18.90625,148.59375],"nice":false,"zero":false},
      "axis":{"orient":"right","title":null,"values":[21.5,37.0625,52.625,68.1875,83.75,99.3125,114.875,130.4375,146],"format":".4r","ticks":false,"tickSize":0,"labelFontSize":15,"labelPadding":14,"domain":false,"labelOverlap":false,"labelFlush":false}},
    "y2":{"field":"hi"},
    "color":{"field":"k","type":"ordinal","legend":null},
    "stroke":{"field":"k","type":"ordinal","legend":null}
   }},
  {"data":{"name":"caps"},
   "mark":{"type":"rect"},
   "encoding":{
    "x":{"datum":0,"type":"quantitative"},
    "x2":{"datum":1},
    "y":{"field":"lo","type":"quantitative"},
    "y2":{"field":"hi"},
    "fill":{"field":"part","type":"nominal","scale":{"domain":["over","under"],"range":["#808080","#000000"]},"legend":null}
   }},
  {"data":{"name":"cticks"},
   "mark":{"type":"rule","color":"#000","strokeWidth":1.5,"clip":false},
   "encoding":{
    "x":{"datum":1,"type":"quantitative"},
    "x2":{"datum":1.243},
    "y":{"field":"v","type":"quantitative"}
   }}
 ]}
]
}
